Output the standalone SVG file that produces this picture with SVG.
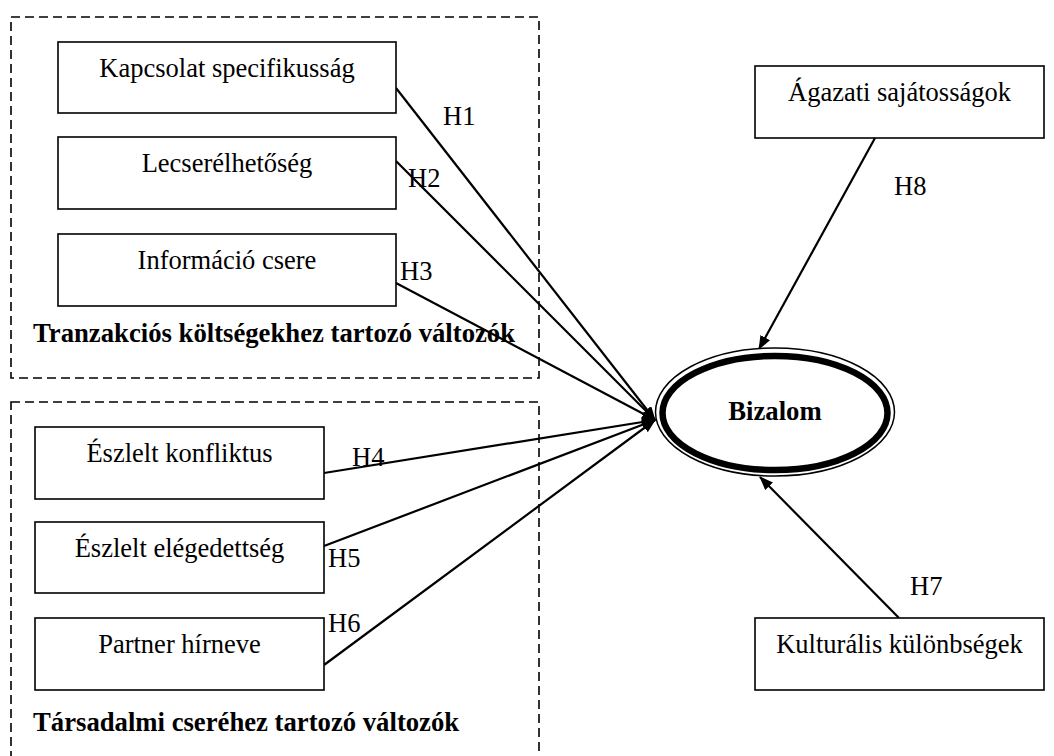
<svg xmlns="http://www.w3.org/2000/svg" width="1054" height="756" viewBox="0 0 1054 756">
<style>
.grp{fill:none;stroke:#000;stroke-width:1.6;stroke-dasharray:9 5}
.box{fill:#fff;stroke:#000;stroke-width:1.6}
.t{font-family:"Liberation Serif","Times New Roman",serif;font-size:26.5px;fill:#000}
.b{font-weight:bold;font-size:26.7px}
.c{text-anchor:middle}
.ln{stroke:#000;stroke-width:2.2;fill:none;marker-end:url(#ah)}
</style>
<defs>
<marker id="ah" viewBox="0 0 14 11" refX="13" refY="5.5" markerWidth="14" markerHeight="11" markerUnits="userSpaceOnUse" orient="auto">
<path d="M0,0 L14,5.5 L0,11 z" fill="#000"/>
</marker>
</defs>
<rect width="1054" height="756" fill="#fff"/>
<g id="group-tranzakcios">
<rect class="grp" x="11" y="17" width="528" height="361"/>
<text class="t b" x="33" y="342">Tranzakciós költségekhez tartozó változók</text>
</g>
<g id="group-tarsadalmi">
<rect class="grp" x="11" y="402" width="528" height="400"/>
<text class="t b" x="33" y="731">Társadalmi cseréhez tartozó változók</text>
</g>
<g id="connectors">
<line class="ln" x1="396" y1="88" x2="655" y2="420"/>
<line class="ln" x1="396" y1="161" x2="655" y2="420"/>
<line class="ln" x1="396" y1="283" x2="655" y2="420"/>
<line class="ln" x1="324" y1="473" x2="655" y2="420"/>
<line class="ln" x1="324" y1="546" x2="655" y2="420"/>
<line class="ln" x1="324" y1="665" x2="655" y2="420"/>
<line class="ln" x1="875" y1="138" x2="759" y2="349"/>
<line class="ln" x1="899" y1="618" x2="760" y2="477"/>
<text class="t" x="443" y="125">H1</text>
<text class="t" x="408" y="187">H2</text>
<text class="t" x="400" y="280">H3</text>
<text class="t" x="352" y="466">H4</text>
<text class="t" x="328" y="567">H5</text>
<text class="t" x="328" y="632">H6</text>
<text class="t" x="910" y="595">H7</text>
<text class="t" x="894" y="195">H8</text>
</g>
<g id="node-kapcsolat">
<rect class="box" x="58" y="42" width="338" height="71"/>
<text class="t c" x="227" y="77">Kapcsolat specifikusság</text>
</g>
<g id="node-lecserelhetoseg">
<rect class="box" x="58" y="137" width="338" height="72"/>
<text class="t c" x="227" y="172">Lecserélhetőség</text>
</g>
<g id="node-informacio">
<rect class="box" x="58" y="234" width="338" height="72"/>
<text class="t c" x="227" y="269">Információ csere</text>
</g>
<g id="node-konfliktus">
<rect class="box" x="35" y="427" width="289" height="72"/>
<text class="t c" x="179.5" y="462">Észlelt konfliktus</text>
</g>
<g id="node-elegedettseg">
<rect class="box" x="35" y="522" width="289" height="71"/>
<text class="t c" x="179.5" y="557">Észlelt elégedettség</text>
</g>
<g id="node-partner">
<rect class="box" x="35" y="618" width="289" height="72"/>
<text class="t c" x="179.5" y="653">Partner hírneve</text>
</g>
<g id="node-agazati">
<rect class="box" x="755" y="66" width="289" height="72"/>
<text class="t c" x="899.5" y="101">Ágazati sajátosságok</text>
</g>
<g id="node-kulturalis">
<rect class="box" x="755" y="618" width="289" height="72"/>
<text class="t c" x="899.5" y="653">Kulturális különbségek</text>
</g>
<g id="node-bizalom">
<ellipse cx="775" cy="412" rx="119.5" ry="64" fill="#fff" stroke="#000" stroke-width="1.5"/>
<ellipse cx="775" cy="413" rx="112.5" ry="57" fill="none" stroke="#000" stroke-width="6.5"/>
<text class="t b c" x="775" y="420">Bizalom</text>
</g>
</svg>
